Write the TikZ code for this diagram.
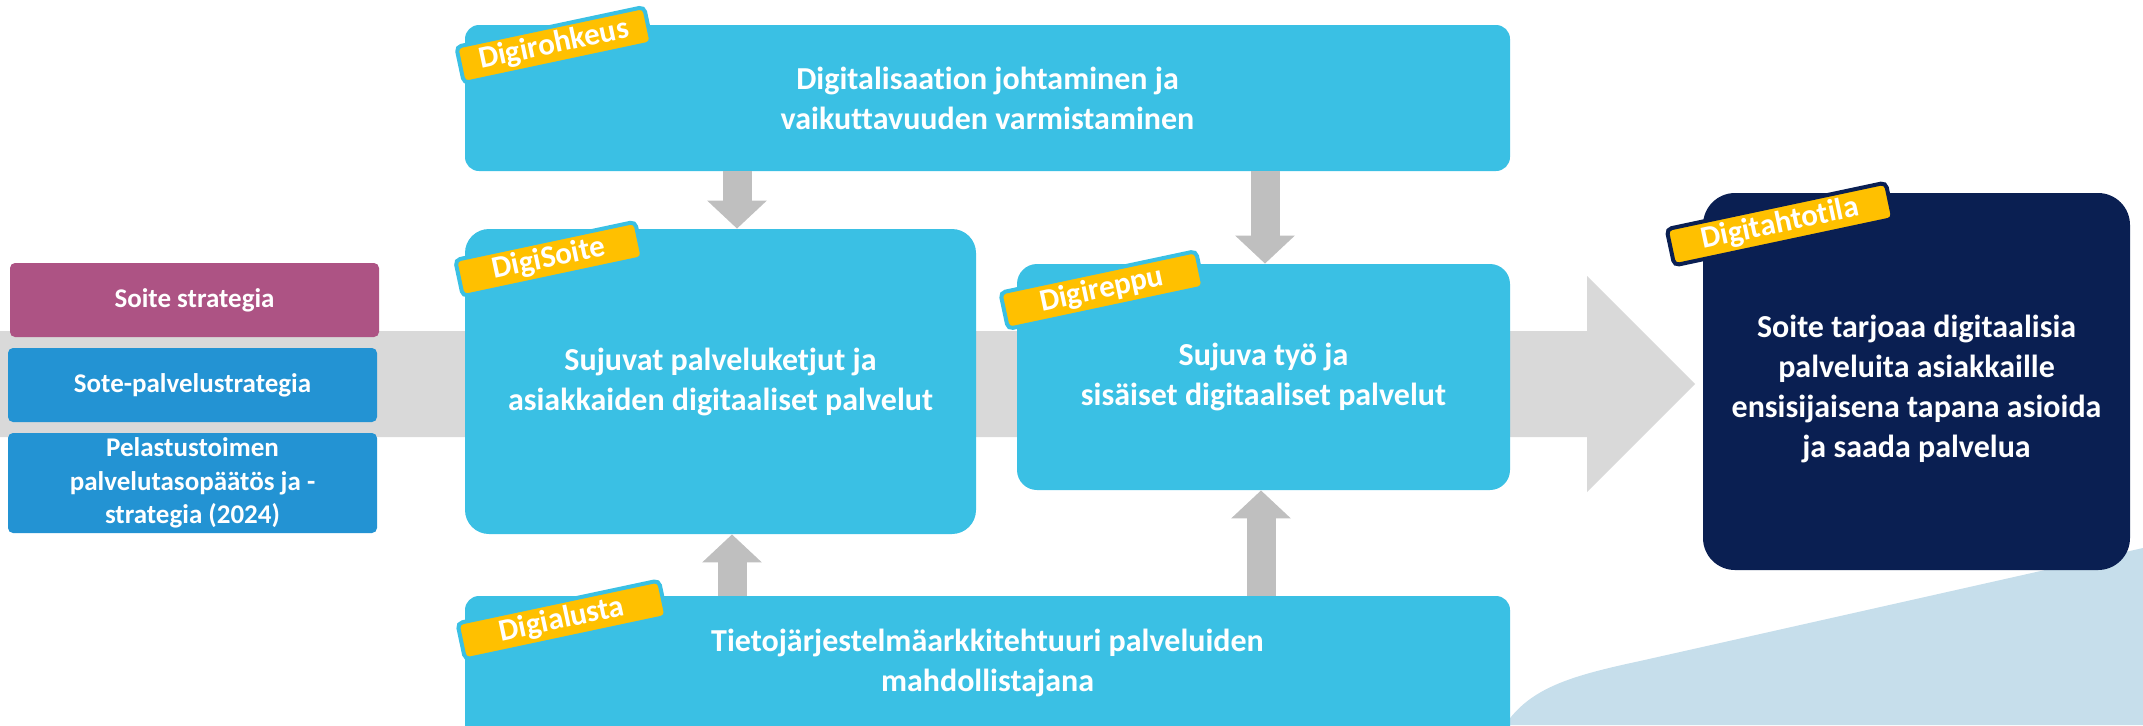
\documentclass[tikz,border=0pt]{standalone}
\usepackage{fontspec}
\setmainfont{Carlito}[Ligatures=CommonOff]
\usetikzlibrary{arrows.meta}
\definecolor{lblue}{RGB}{58,192,228}
\definecolor{magen}{RGB}{173,83,132}
\definecolor{mblue}{RGB}{35,147,211}
\definecolor{navy}{RGB}{10,31,82}
\definecolor{tagyel}{RGB}{255,192,0}
\definecolor{bgray}{RGB}{217,217,217}
\definecolor{sgray}{RGB}{191,191,191}
\definecolor{wavec}{RGB}{198,222,235}
\begin{document}
\begin{tikzpicture}[x=0.5pt,y=-0.5pt,
 box/.style={fill=lblue, rounded corners=7pt, text=white, font=\fontsize{16}{20}\selectfont\bfseries, align=center, inner sep=0pt},
 boxtext/.style={text=white, font=\fontsize{16}{20}\selectfont\bfseries, align=center, inner sep=0pt},
 leftbox/.style={rounded corners=2.5pt, text=white, font=\fontsize{13.5}{16.8}\selectfont\bfseries, align=center, minimum width=184.5pt, inner sep=0pt},
 tagbox/.style={fill=tagyel, draw=lblue, line width=2pt, rounded corners=2.5pt, rotate=12, text=white, font=\fontsize{15.5}{18}\selectfont\bfseries, minimum height=18.5pt, inner sep=0pt},
 blockarrow/.style={draw=sgray, line width=14.5pt, -{Triangle[width=29pt,length=14pt]}}
]
\useasboundingbox (0,0) rectangle (2143,725);
\clip (0,0) rectangle (2143,725);
% background wave
\fill[wavec] (1505,725) .. controls (1530,688) and (1570,676) .. (1640,661) -- (2143,548) -- (2143,725) -- cycle;
% big flow arrow
\fill[bgray] (0,331) -- (1587,331) -- (1587,276) -- (1695,384) -- (1587,492) -- (1587,437) -- (0,437) -- cycle;
% left boxes
\node[leftbox, fill=magen, minimum height=37pt] (ss) at (194.5,300) {Soite strategia};
\node[leftbox, fill=mblue, minimum height=37pt] (sp) at (192.5,385) {Sote-palvelustrategia};
\node[leftbox, fill=mblue, minimum height=50pt] (pel) at (192.5,483) {Pelastustoimen\\palvelutasopäätös ja -\\strategia (2024)};
% main boxes
\node[box, minimum width=522.5pt, minimum height=73pt] (lead) at (987.5,98) {Digitalisaation johtaminen ja\\vaikuttavuuden varmistaminen};
\node[box, rounded corners=12pt, minimum width=255.5pt, minimum height=152.5pt] (soite) at (720.5,381.5) {Sujuvat palveluketjut ja\\asiakkaiden digitaaliset palvelut};
\node[box, rounded corners=10pt, minimum width=246.5pt, minimum height=113pt] (reppu) at (1263.5,377) {Sujuva työ ja\\sisäiset digitaaliset palvelut};
\node[box, minimum width=522.5pt, minimum height=72pt] (alusta) at (987.5,668) {};
\node[boxtext] (alustatext) at (987.5,663) {Tietojärjestelmäarkkitehtuuri palveluiden\\mahdollistajana};
\node[box, fill=navy, rounded corners=16pt, minimum width=213.5pt, minimum height=188.5pt] (goal) at (1916.5,381.5) {};
\node[boxtext] (goaltext) at (1916.5,389) {Soite tarjoaa digitaalisia\\palveluita asiakkaille\\ensisijaisena tapana asioida\\ja saada palvelua};
% connectors
\coordinate (c1) at (737,0);
\coordinate (c2) at (1265,0);
\coordinate (c3) at (732,0);
\coordinate (c4) at (1261,0);
\draw[blockarrow] (c1 |- lead.south) -- (c1 |- soite.north);
\draw[blockarrow] (c2 |- lead.south) -- (c2 |- reppu.north);
\draw[blockarrow] (c3 |- alusta.north) -- (c3 |- soite.south);
\draw[blockarrow] (c4 |- alusta.north) -- (c4 |- reppu.south);
% tags
\node[tagbox, minimum width=96pt] (t1) at (554,45) {Digirohkeus};
\node[tagbox, minimum width=92pt] (t2) at (549,259) {DigiSoite};
\node[tagbox, minimum width=100pt] (t3) at (1102,290) {Digireppu};
\node[tagbox, minimum width=103pt] (t4) at (562,620) {Digialusta};
\node[tagbox, draw=navy, minimum width=112pt] (t5) at (1780,224) {Digitahtotila};
\end{tikzpicture}
\end{document}
